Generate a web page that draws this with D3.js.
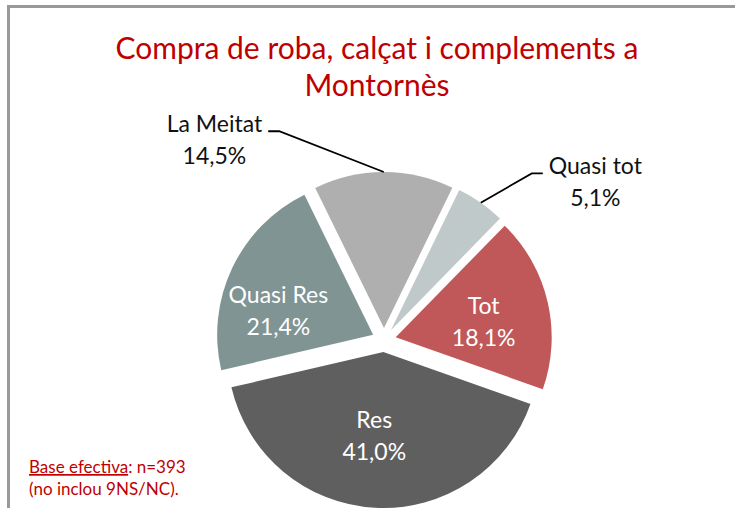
<!DOCTYPE html>
<html>
<head>
<meta charset="utf-8">
<script src="https://cdn.jsdelivr.net/npm/d3@7"></script>
<style>
  html, body { margin: 0; padding: 0; background: #fff; }
  svg { display: block; font-family: Lato, "Open Sans", sans-serif; }
</style>
</head>
<body>
<script>
// data, clockwise from the top
var categories = ['Quasi tot', 'Tot', 'Res', 'Quasi Res', 'La Meitat'];
var values = [5.1, 18.1, 41.0, 21.4, 14.5];
var colors = ['#c0c9c9', '#c0585a', '#5f5f5f', '#809494', '#afafaf'];
var titleLines = ['Compra de roba, calçat i complements a', 'Montornès'];
var noteLines = [['Base efectiva', ': n=393'], ['', '(no inclou 9NS/NC).']];

// label placement: angle (deg) and distance from the slice tip
var labelLayout = {
  'Quasi tot': {angle: 52.7, dist: 257, outside: true, anchor: 'start'},
  'Tot': {angle: 75.2, dist: 91},
  'Res': {angle: 186.8, dist: 77},
  'Quasi Res': {angle: 288.6, dist: 100},
  'La Meitat': {angle: 319.1, dist: 259, outside: true, anchor: 'end'}
};

var W = 735, H = 508;
var cx = 384, cy = 340, radius = 156, explode = 12;
var startDeg = 26;
var rad = Math.PI / 180;
var fmt = d3.format('.1f');

function polar (a, d) {
  return [d * Math.sin(a), -d * Math.cos(a)];
}

var svg = d3.select('body').append('svg')
  .attr('width', W)
  .attr('height', H);

svg.append('rect').attr('width', W).attr('height', H).attr('fill', '#fff');
svg.append('rect')
  .attr('x', 8.5).attr('y', 6.5)
  .attr('width', W).attr('height', H)
  .attr('fill', 'none')
  .attr('stroke', '#999')
  .attr('stroke-width', 3);

// title
svg.append('text')
  .attr('text-anchor', 'middle')
  .attr('fill', '#c00000')
  .style('font-size', '30px')
  .selectAll('tspan')
  .data(titleLines)
  .join('tspan')
  .attr('x', 377)
  .attr('y', function (d, i) { return 59 + i * 37; })
  .text(function (d) { return d; });

// pie
var data = categories.map(function (c, i) {
  return {name: c, value: values[i], color: colors[i]};
});

var pie = d3.pie()
  .sort(null)
  .value(function (d) { return d.value; })
  .startAngle(startDeg * rad)
  .endAngle(startDeg * rad + 2 * Math.PI);

var arc = d3.arc().innerRadius(0).outerRadius(radius);
var arcs = pie(data);

var slices = svg.selectAll('g.slice')
  .data(arcs)
  .join('g')
  .attr('class', 'slice')
  .attr('transform', function (d) {
    var o = polar((d.startAngle + d.endAngle) / 2, explode);
    return 'translate(' + (cx + o[0]) + ',' + (cy + o[1]) + ')';
  });

slices.append('path')
  .attr('d', arc)
  .attr('fill', function (d) { return d.data.color; });

// labels
slices.each(function (d) {
  var g = d3.select(this);
  var L = labelLayout[d.data.name];
  var p = polar(L.angle * rad, L.dist);
  var lines = [d.data.name, fmt(d.data.value).replace('.', ',') + '%'];

  var t = g.append('text')
    .attr('text-anchor', 'middle')
    .attr('fill', L.outside ? '#111' : '#fff')
    .style('font-size', '23px');
  t.selectAll('tspan')
    .data(lines)
    .join('tspan')
    .attr('x', p[0])
    .attr('y', function (s, i) { return p[1] + i * 32; })
    .text(function (s) { return s; });

  if (L.outside) {
    var w = t.select('tspan').node().getComputedTextLength();
    var dir = L.anchor === 'end' ? 1 : -1;
    var endX = p[0] + dir * (w / 2 + 6);
    var elbowX = endX + dir * 11;
    var a = polar((d.startAngle + d.endAngle) / 2, radius);
    g.append('path')
      .attr('d', d3.line()([[a[0], a[1]], [elbowX, p[1] - 1], [endX, p[1] - 1]]))
      .attr('fill', 'none')
      .attr('stroke', '#000')
      .attr('stroke-width', 1.8);
  }
});

// footnote
var note = svg.append('text')
  .attr('fill', '#c00000')
  .style('font-size', '17px');
noteLines.forEach(function (ln, i) {
  var first = true;
  ln.forEach(function (part, j) {
    if (!part) return;
    var ts = note.append('tspan').text(part);
    if (first) ts.attr('x', 29).attr('y', 473 + i * 22);
    if (j === 0) ts.style('text-decoration', 'underline');
    first = false;
  });
});
</script>
</body>
</html>
